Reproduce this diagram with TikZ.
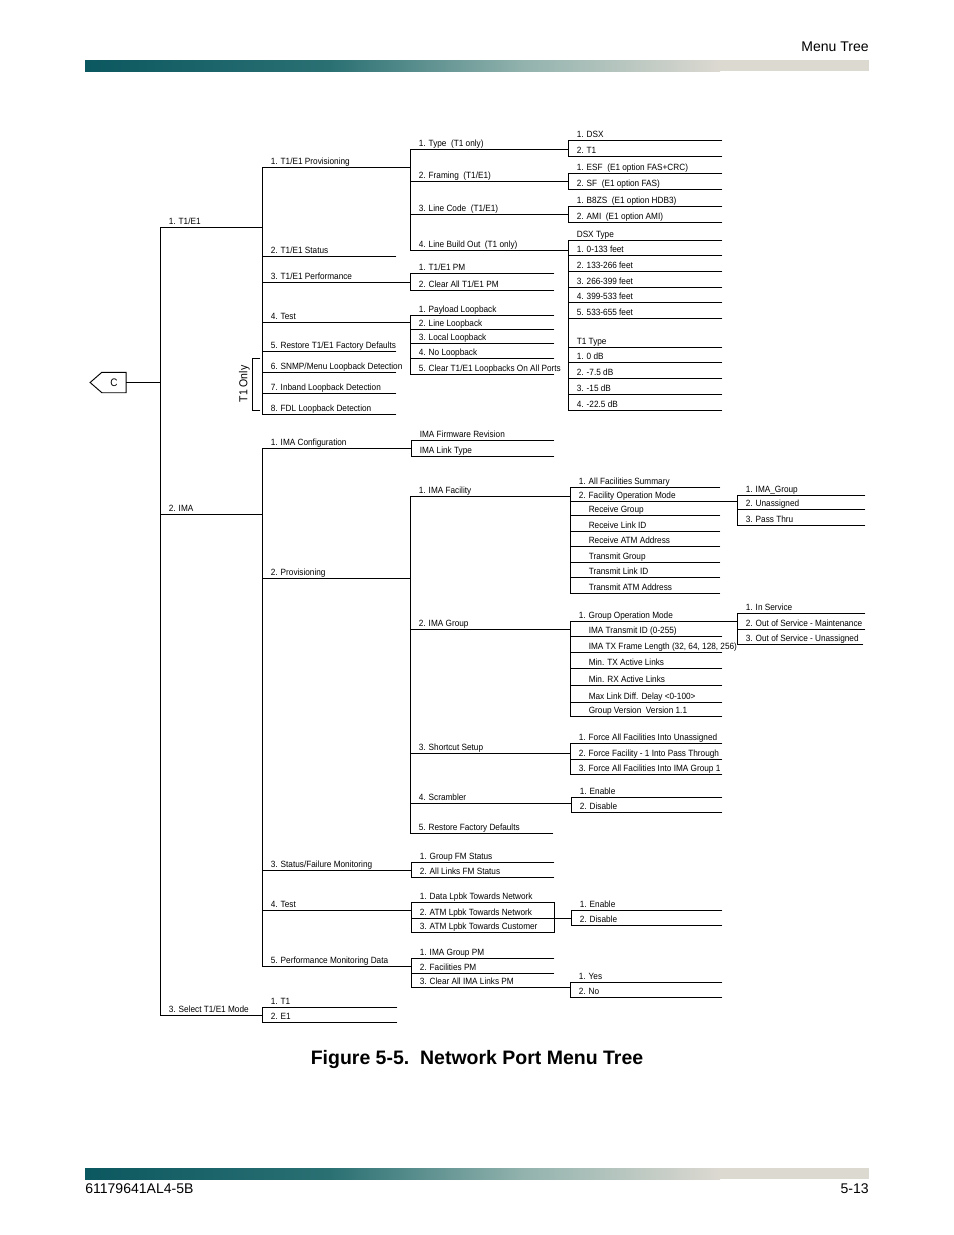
\documentclass[tikz,border=0pt]{standalone}
\usepackage{fontspec}
\setmainfont{Liberation Sans}
\newfontfamily\menufont{Liberation Sans}[FakeStretch=0.91]
\usetikzlibrary{shapes.symbols}
\definecolor{cteal}{HTML}{0C5860}
\definecolor{cteal2}{HTML}{2A7073}
\definecolor{cmist}{HTML}{93B3AE}
\definecolor{clight}{HTML}{DCD9D1}
\newcommand\ind{\hspace*{6.4pt}}
\tikzset{
  rule/.style={draw=black, line width=0.6pt, line cap=rect},
  lbl/.style={font=\menufont\fontsize{5.8}{7}\selectfont, inner sep=0pt, anchor=base west},
  pagetext/.style={font=\fontsize{9}{11}\selectfont, inner sep=0pt},
}
% one column of menu entries: name, left x, list of y/right x/text
\newcommand\menucol[3]{%
  \foreach \yy/\xr/\txt [count=\idx, remember=\idx as \prv (initially 0)] in {#3} {
    \coordinate (#1\idx-l) at (#2,\yy);
    \coordinate (#1\idx-r) at (\xr,\yy);
    \draw[rule] (#1\idx-l) -- (#1\idx-r);
    \node[lbl] (#1\idx) at ([xshift=5.45pt, yshift=1.92pt]#1\idx-l) {\txt};
    \ifnum\idx>1 \draw[rule] (#1\prv-l) -- (#1\idx-l); \fi
  }%
}

\begin{document}
\begin{tikzpicture}[x=0.6415pt, y=-0.6415pt]
  \useasboundingbox (0,0) rectangle (954,1235);
  % page header and footer bars
  \shade[left color=cteal, right color=cteal2] (85,60) rectangle (330,71);
  \shade[left color=cteal2, right color=clight, middle color=cmist] (330,60) rectangle (720,71);
  \fill[clight] (720,60) rectangle (869,71);
  \shade[left color=cteal, right color=cteal2] (85,1168) rectangle (330,1179);
  \shade[left color=cteal2, right color=clight, middle color=cmist] (330,1168) rectangle (720,1179);
  \fill[clight] (720,1168) rectangle (869,1179);
  \node[pagetext, anchor=base east] (hdr) at (869,51) {Menu Tree};
  \node[pagetext, anchor=base west] (ftl) at (85,1193) {61179641AL4-5B};
  \node[pagetext, anchor=base east] (ftr) at (869,1193) {5-13};
  \node[font=\bfseries\fontsize{12.5}{15}\selectfont, anchor=base, inner sep=0pt] (cap) at (477,1064) {Figure 5-5.\ \ Network Port Menu Tree};

  % root
  \menucol{top}{160}{227/262/{1. T1/E1}, 514/262/{2. IMA}, 1015/262/{3. Select T1/E1 Mode}}
  \node[signal, signal to=west, signal pointer angle=82, draw, line width=0.6pt, minimum width=23.1pt, minimum height=13.1pt, inner sep=0pt, font=\menufont\fontsize{7}{8}\selectfont] (cbox) at (114,382.5) {C};
  \draw[rule] (cbox.east) -- (cbox.east -| top1-l);

  % T1/E1 branch
  \menucol{te}{262}{167/410/{1. T1/E1 Provisioning}, 256/396/{2. T1/E1 Status}, 282.7/410/{3. T1/E1 Performance}, 322.7/410/{4. Test}, 351.7/396/{5. Restore T1/E1 Factory Defaults}, 372.7/396/{6. SNMP/Menu Loopback Detection}, 393.3/396/{7. Inband Loopback Detection}, 414/396/{8. FDL Loopback Detection}}
  \draw[rule] (260,358) -- (252,358) -- (252,410) -- (260,410);
  \node[font=\menufont\fontsize{7.4}{9}\selectfont, rotate=90, inner sep=0pt] (t1only) at (244.5,384) {T1 Only};
  \menucol{pv}{410}{149/568/{1. Type~ (T1 only)}, 181/568/{2. Framing~ (T1/E1)}, 214/568/{3. Line Code~ (T1/E1)}, 250/568/{4. Line Build Out~ (T1 only)}}
  \menucol{ty}{568}{140.7/722/{1. DSX}, 156.7/722/{2. T1}}
  \menucol{fr}{568}{173.3/722/{1. ESF~ (E1 option FAS+CRC)}, 189.3/722/{2. SF~ (E1 option FAS)}}
  \menucol{lc}{568}{206.7/722/{1. B8ZS~ (E1 option HDB3)}, 222/722/{2. AMI~ (E1 option AMI)}}
  \menucol{lb}{568}{240/722/{DSX Type}, 255.5/722/{1. 0-133 feet}, 271/722/{2. 133-266 feet}, 287/722/{3. 266-399 feet}, 302.8/722/{4. 399-533 feet}, 318.5/722/{5. 533-655 feet}, 347.3/722/{T1 Type}, 362.8/722/{1. 0 dB}, 378.4/722/{2. -7.5 dB}, 394/722/{3. -15 dB}, 410/722/{4. -22.5 dB}}
  \menucol{pm}{410}{273.3/554/{1. T1/E1 PM}, 290/554/{2. Clear All T1/E1 PM}}
  \menucol{lp}{410}{315/554/{1. Payload Loopback}, 329/554/{2. Line Loopback}, 343.5/554/{3. Local Loopback}, 358.5/554/{4. No Loopback}, 374/554/{5. Clear T1/E1 Loopbacks On All Ports}}

  % IMA branch
  \menucol{im}{262}{448.3/411/{1. IMA Configuration}, 578.3/410/{2. Provisioning}, 870.7/411/{3. Status/Failure Monitoring}, 910.7/411/{4. Test}, 966.7/411/{5. Performance Monitoring Data}}
  \menucol{cf}{411}{440.7/554/{IMA Firmware Revision}, 456/554/{IMA Link Type}}
  \menucol{ip}{410}{496/570/{1. IMA Facility}, 629.3/570/{2. IMA Group}, 753.3/570/{3. Shortcut Setup}, 803.3/571/{4. Scrambler}, 833.3/553/{5. Restore Factory Defaults}}
  \menucol{fa}{570}{487.7/720/{1. All Facilities Summary}, 501/737/{2. Facility Operation Mode}, 515.7/720/{\ind Receive Group}, 531/720/{\ind Receive Link ID}, 546.5/720/{\ind Receive ATM Address}, 562.3/720/{\ind Transmit Group}, 577.5/720/{\ind Transmit Link ID}, 593.3/720/{\ind Transmit ATM Address}}
  \menucol{fm}{737}{495/865/{1. IMA\_Group}, 509.3/865/{2. Unassigned}, 525/865/{3. Pass Thru}}
  \menucol{gr}{570}{621/737/{1. Group Operation Mode}, 636.7/722/{\ind IMA Transmit ID (0-255)}, 652.3/722/{\ind IMA TX Frame Length (32, 64, 128, 256)}, 668.3/722/{\ind Min. TX Active Links}, 685.7/722/{\ind Min. RX Active Links}, 702.3/722/{\ind Max Link Diff. Delay <0-100>}, 716.7/722/{\ind Group Version~ Version 1.1}}
  \menucol{gm}{737}{613.3/865/{1. In Service}, 629/865/{2. Out of Service - Maintenance}, 644.3/863/{3. Out of Service - Unassigned}}
  \menucol{sc}{570}{743.3/722/{1. Force All Facilities Into Unassigned}, 759/722/{2. Force Facility - 1 Into Pass Through}, 774/722/{3. Force All Facilities Into IMA Group 1}}
  \menucol{sr}{571}{797.3/722/{1. Enable}, 812.3/722/{2. Disable}}
  \menucol{fs}{411}{862.7/554/{1. Group FM Status}, 877.3/554/{2. All Links FM Status}}
  \menucol{lk}{411}{902.7/554/{1. Data Lpbk Towards Network}, 918.3/554/{2. ATM Lpbk Towards Network}, 932.7/554/{3. ATM Lpbk Towards Customer}}
  \draw[rule] (lk1-r) -- (lk3-r);
  \menucol{en}{571}{910/722/{1. Enable}, 925/722/{2. Disable}}
  \draw[rule] (lk2-r) -- (lk2-r -| en1-l);
  \menucol{pd}{411}{958.3/554/{1. IMA Group PM}, 973.3/554/{2. Facilities PM}, 987.7/570/{3. Clear All IMA Links PM}}
  \menucol{yn}{570}{982.7/722/{1. Yes}, 997.7/722/{2. No}}

  % mode selection
  \menucol{md}{262}{1007.3/397/{1. T1}, 1022.7/397/{2. E1}}
\end{tikzpicture}
\end{document}
